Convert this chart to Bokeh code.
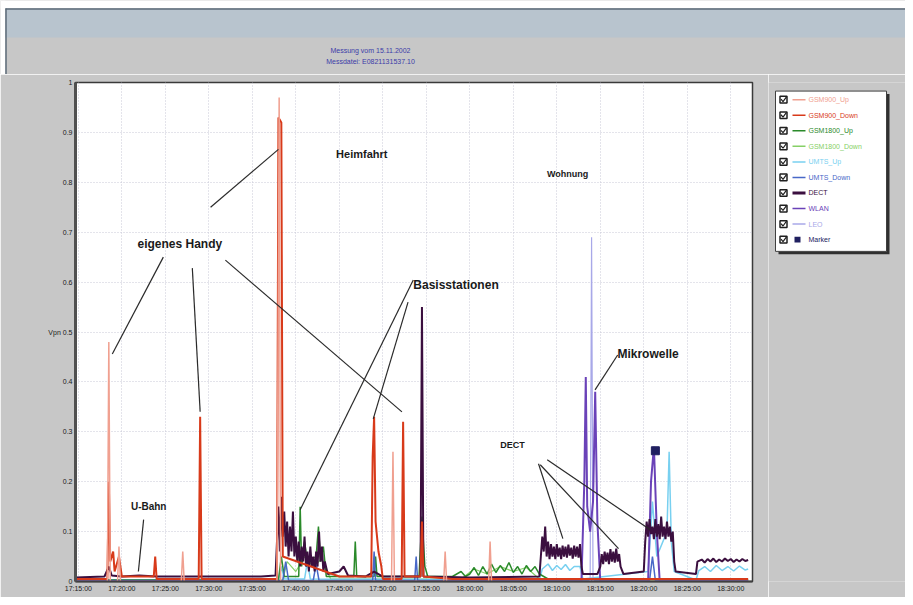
from bokeh.plotting import figure
from bokeh.models import Range1d, FixedTicker, ColumnDataSource
from bokeh.layouts import column, row
from bokeh.embed import file_html
from bokeh.resources import INLINE
from bokeh.core.properties import value

# ---------------- data ----------------
title_lines = ["Messung vom 15.11.2002", "Messdatei: E0821131537.10"]

x_tick_labels = ["17:15:00", "17:20:00", "17:25:00", "17:30:00", "17:35:00", "17:40:00",
                 "17:45:00", "17:50:00", "17:55:00", "18:00:00", "18:05:00", "18:10:00",
                 "18:15:00", "18:20:00", "18:25:00", "18:30:00"]
y_tick_values = [0.0, 0.1, 0.2, 0.3, 0.4, 0.5, 0.6, 0.7, 0.8, 0.9, 1.0]
y_tick_labels = ["0", "0.1", "0.2", "0.3", "0.4", "Vpn 0.5", "0.6", "0.7", "0.8", "0.9", "1"]

series_names = ["GSM900_Up", "GSM900_Down", "GSM1800_Up", "GSM1800_Down", "UMTS_Up",
                "UMTS_Down", "DECT", "WLAN", "LEO", "Marker"]
series_colors = ["#f0a090", "#d83a1a", "#2a8a2a", "#86d066", "#78d0f0",
                 "#4868c8", "#3b0f3f", "#6a42b8", "#a8a8e8", "#202060"]

gsm1800_down_t = ["17:14:40", "17:38:30", "17:39:00", "17:40:00", "17:41:00", "17:42:00", "17:43:00",
                  "17:44:00", "17:59:00", "18:00:30", "18:02:00", "18:03:30", "18:05:00", "18:06:30",
                  "18:08:00", "18:32:00"]
gsm1800_down_v = [0.003, 0.003, 0.040, 0.020, 0.050, 0.030, 0.045, 0.005, 0.005, 0.025, 0.015,
                  0.030, 0.020, 0.028, 0.005, 0.003]

umts_up_t = ["17:14:40", "17:38:00", "17:38:20", "17:38:40", "17:41:00", "17:41:20", "17:41:40",
             "18:08:00", "18:08:20", "18:09:00", "18:09:30", "18:10:00", "18:10:30", "18:11:00",
             "18:11:30", "18:12:00", "18:12:40", "18:13:00", "18:20:30",
             "18:21:00", "18:21:30", "18:22:40", "18:22:55", "18:23:10", "18:23:30", "18:26:00",
             "18:26:20", "18:27:00", "18:27:40", "18:28:20", "18:29:00", "18:29:40", "18:30:20",
             "18:31:00", "18:31:40", "18:32:00"]
umts_up_v = [0.003, 0.003, 0.030, 0.005, 0.005, 0.040, 0.005,
             0.003, 0.025, 0.035, 0.022, 0.032, 0.024, 0.034,
             0.022, 0.030, 0.030, 0.005, 0.020,
             0.160, 0.050, 0.100, 0.260, 0.080, 0.020, 0.003,
             0.022, 0.030, 0.020, 0.032, 0.022, 0.030, 0.021,
             0.031, 0.023, 0.025]

gsm1800_up_t = ["17:14:40", "17:38:00", "17:38:20", "17:38:40", "17:40:20", "17:40:30", "17:40:40",
                "17:41:00", "17:41:20", "17:42:20", "17:42:36", "17:42:50", "17:43:10", "17:43:30",
                "17:46:40", "17:46:50", "17:47:00", "17:49:00", "17:49:10", "17:49:20", "17:54:10",
                "17:54:30", "17:54:50", "17:55:10", "17:58:00", "17:59:00", "17:59:30", "18:00:00",
                "18:00:30", "18:01:00", "18:01:30", "18:02:00", "18:02:30", "18:03:00", "18:03:30",
                "18:04:00", "18:04:30", "18:05:00", "18:05:30", "18:06:00", "18:06:30", "18:07:00",
                "18:07:30", "18:08:00", "18:09:00", "18:32:00"]
gsm1800_up_v = [0.003, 0.003, 0.050, 0.010, 0.010, 0.150, 0.030,
                0.080, 0.040, 0.050, 0.110, 0.040, 0.070, 0.010,
                0.010, 0.080, 0.010, 0.010, 0.050, 0.010, 0.010,
                0.130, 0.030, 0.010, 0.010, 0.020, 0.010, 0.015,
                0.028, 0.012, 0.030, 0.015, 0.035, 0.018, 0.032,
                0.020, 0.038, 0.018, 0.030, 0.015, 0.032, 0.020,
                0.030, 0.015, 0.005, 0.003]

umts_down_t = ["17:14:40", "17:38:30", "17:38:50", "17:39:10", "17:42:00", "17:42:20", "17:42:40",
               "17:48:50", "17:49:00", "17:49:10", "17:53:40", "17:53:50", "17:54:00",
               "18:20:40", "18:21:00", "18:21:20", "18:32:00"]
umts_down_v = [0.002, 0.002, 0.040, 0.002, 0.002, 0.035, 0.002,
               0.002, 0.060, 0.002, 0.002, 0.050, 0.002,
               0.002, 0.050, 0.002, 0.002]

leo_t = ["17:14:40", "18:13:50", "18:14:00", "18:14:10", "18:32:00"]
leo_v = [0.0, 0.0, 0.690, 0.0, 0.0]

wlan_t = ["17:14:40", "18:12:50", "18:13:10", "18:13:20", "18:13:30", "18:13:50", "18:14:10",
          "18:14:25", "18:14:40", "18:15:00", "18:20:30", "18:20:50", "18:21:10", "18:21:30",
          "18:21:50", "18:32:00"]
wlan_v = [0.0, 0.0, 0.200, 0.410, 0.150, 0.100, 0.160,
          0.380, 0.120, 0.0, 0.0, 0.200, 0.270, 0.100,
          0.0, 0.0]

dect_t = ["17:14:40", "17:18:00", "17:18:30", "17:18:50", "17:20:00", "17:22:00", "17:24:00",
          "17:30:00", "17:36:00",
          "17:37:40", "17:37:50", "17:38:00", "17:38:10", "17:38:20", "17:38:30", "17:38:40",
          "17:38:50", "17:39:00", "17:39:10", "17:39:20", "17:39:30", "17:39:40", "17:39:50",
          "17:40:00", "17:40:10", "17:40:20", "17:40:30", "17:40:40", "17:40:50", "17:41:00",
          "17:41:10", "17:41:20", "17:41:30", "17:41:40", "17:41:50", "17:42:00", "17:42:10",
          "17:42:20", "17:42:30", "17:42:40", "17:42:50", "17:43:00", "17:43:10", "17:43:20",
          "17:43:40",
          "17:45:00", "17:45:30", "17:46:00", "17:48:00", "17:49:00", "17:50:00", "17:54:20",
          "17:54:30", "17:54:40", "18:00:00",
          "18:08:00", "18:08:10", "18:08:20", "18:08:30", "18:08:40", "18:08:50", "18:09:00",
          "18:09:10", "18:09:20", "18:09:30", "18:09:40", "18:09:50", "18:10:00", "18:10:10",
          "18:10:20", "18:10:30", "18:10:40", "18:10:50", "18:11:00", "18:11:10", "18:11:20",
          "18:11:30", "18:11:40", "18:11:50", "18:12:00", "18:12:10", "18:12:20", "18:12:30",
          "18:12:40", "18:12:50", "18:13:00", "18:14:40",
          "18:15:00", "18:15:10", "18:15:20", "18:15:30", "18:15:40", "18:15:50", "18:16:00",
          "18:16:10", "18:16:20", "18:16:30", "18:16:40", "18:16:50", "18:17:00", "18:17:10",
          "18:17:20", "18:17:40",
          "18:20:00", "18:20:10", "18:20:20", "18:20:30", "18:20:40", "18:20:50", "18:21:00",
          "18:21:10", "18:21:20", "18:21:30", "18:21:40", "18:21:50", "18:22:00", "18:22:10",
          "18:22:20", "18:22:30", "18:22:40", "18:22:50", "18:23:00", "18:23:10", "18:23:20",
          "18:23:30", "18:23:40",
          "18:26:00", "18:26:10", "18:26:40", "18:27:00", "18:27:20", "18:27:40", "18:28:00",
          "18:28:20", "18:28:40", "18:29:00", "18:29:20", "18:29:40", "18:30:00", "18:30:20",
          "18:30:40", "18:31:00", "18:31:20", "18:31:40", "18:32:00"]
dect_v = [0.008, 0.010, 0.030, 0.012, 0.010, 0.012, 0.010,
          0.010, 0.010,
          0.012, 0.080, 0.150, 0.060, 0.170, 0.090, 0.140,
          0.070, 0.120, 0.050, 0.110, 0.060, 0.140, 0.050,
          0.090, 0.040, 0.080, 0.030, 0.070, 0.040, 0.090,
          0.030, 0.060, 0.020, 0.070, 0.030, 0.050, 0.020,
          0.060, 0.030, 0.100, 0.040, 0.070, 0.020, 0.040,
          0.015,
          0.020, 0.030, 0.012, 0.010, 0.020, 0.010, 0.010,
          0.550, 0.010, 0.008,
          0.010, 0.050, 0.090, 0.060, 0.110, 0.050, 0.080,
          0.045, 0.075, 0.050, 0.070, 0.045, 0.075, 0.050,
          0.068, 0.045, 0.072, 0.050, 0.070, 0.048, 0.074,
          0.052, 0.068, 0.046, 0.072, 0.050, 0.070, 0.048,
          0.075, 0.030, 0.015, 0.015,
          0.030, 0.055, 0.035, 0.060, 0.040, 0.058, 0.035,
          0.065, 0.040, 0.060, 0.038, 0.066, 0.040, 0.055,
          0.030, 0.015,
          0.020, 0.080, 0.120, 0.090, 0.125, 0.095, 0.110,
          0.085, 0.125, 0.090, 0.115, 0.085, 0.130, 0.090,
          0.110, 0.085, 0.120, 0.090, 0.110, 0.080, 0.100,
          0.040, 0.020,
          0.015, 0.040, 0.044, 0.038, 0.045, 0.040, 0.046,
          0.039, 0.044, 0.040, 0.046, 0.041, 0.045, 0.039,
          0.044, 0.040, 0.045, 0.041, 0.043]

gsm900_down_t = ["17:14:40", "17:18:20", "17:18:30", "17:18:40", "17:19:00", "17:19:10", "17:19:40",
                 "17:20:00", "17:23:40", "17:23:50", "17:24:00", "17:28:50", "17:29:00", "17:29:10",
                 "17:37:50", "17:38:00", "17:38:20", "17:38:30", "17:45:00", "17:48:40", "17:48:50",
                 "17:49:00", "17:49:10", "17:49:30", "17:49:50", "17:50:00", "17:52:10", "17:52:20",
                 "17:52:30", "17:54:20", "17:54:30", "17:54:40", "17:58:00", "18:32:00"]
gsm900_down_v = [0.005, 0.005, 0.200, 0.040, 0.060, 0.020, 0.050,
                 0.010, 0.010, 0.050, 0.005, 0.005, 0.330, 0.005,
                 0.005, 0.930, 0.920, 0.050, 0.010, 0.010, 0.250,
                 0.330, 0.120, 0.060, 0.030, 0.005, 0.005, 0.320,
                 0.010, 0.010, 0.120, 0.010, 0.005, 0.005]

gsm900_up_t = ["17:14:40", "17:18:20", "17:18:30", "17:18:40", "17:19:30", "17:19:40", "17:19:50",
               "17:26:50", "17:27:00", "17:27:10", "17:37:50", "17:38:05", "17:38:15", "17:51:00",
               "17:51:10", "17:51:20", "17:57:00", "17:57:10", "17:57:20", "18:02:10", "18:02:20",
               "18:02:30", "18:32:00"]
gsm900_up_v = [0.0, 0.0, 0.480, 0.0, 0.0, 0.070, 0.0,
               0.0, 0.060, 0.0, 0.0, 0.970, 0.0, 0.0,
               0.260, 0.0, 0.0, 0.060, 0.0, 0.0, 0.080,
               0.0, 0.0]

marker_t = ["18:21:20"]
marker_v = [0.262]

ann_text = ["Heimfahrt", "eigenes Handy", "Basisstationen", "Wohnung", "Mikrowelle", "U-Bahn", "DECT"]
ann_t = ["17:47:35", "17:26:40", "17:58:25", "18:11:15", "18:20:30", "17:23:05", "18:04:55"]
ann_v = [0.856, 0.676, 0.594, 0.816, 0.456, 0.150, 0.274]
ann_size = ["11px", "12px", "12px", "9px", "12px", "10px", "9px"]

lead_t0 = ["17:24:46", "17:28:06", "17:30:12", "17:31:54", "17:53:30", "17:52:54", "18:17:00",
           "18:07:54", "18:08:06", "18:08:54", "17:22:30"]
lead_v0 = [0.650, 0.628, 0.750, 0.644, 0.604, 0.560, 0.454, 0.236, 0.234, 0.244, 0.124]
lead_t1 = ["17:18:54", "17:29:00", "17:38:00", "17:52:12", "17:40:30", "17:48:54", "18:14:24",
           "18:10:42", "18:17:06", "18:20:42", "17:21:54"]
lead_v1 = [0.456, 0.340, 0.866, 0.340, 0.144, 0.326, 0.384, 0.086, 0.066, 0.104, 0.020]

# ---------------- helpers ----------------
def t2m(s):
    h, m, sec = (int(v) for v in s.split(":"))
    return h * 60 + m + sec / 60.0 - (17 * 60 + 15)

GRAY = "#c7c7c7"
BAND = "#b8c4ce"
FONT = "Liberation Sans"

W, HEAD_H, BODY_H = 905, 74, 523
MAIN_W = 768

# ---------------- header ----------------
head = figure(width=W, height=HEAD_H, x_range=Range1d(0, W), y_range=Range1d(HEAD_H, 0),
              output_backend="svg", toolbar_location=None, min_border=0,
              x_axis_location=None, y_axis_location=None,
              background_fill_color=GRAY, border_fill_color=GRAY, outline_line_color=None)
head.grid.visible = False
head.quad(left=[0], right=[W], top=[0], bottom=[8], fill_color="white", line_color=None)
head.quad(left=[0], right=[5], top=[0], bottom=[HEAD_H], fill_color="white", line_color=None)
head.quad(left=[5], right=[W], top=[8], bottom=[37], fill_color=BAND, line_color=None)
head.segment(x0=[5, 5.5], y0=[8.5, 8], x1=[W, 5.5], y1=[8.5, HEAD_H], line_color="#5d6b78", line_width=1.5)
head.text(x=[370, 370], y=[50, 61], text=title_lines, text_align="center", text_baseline="middle",
          text_font=value(FONT), text_font_size="7px", text_color="#3c3ca8")

# ---------------- main plot ----------------
p = figure(width=MAIN_W, height=BODY_H, x_range=Range1d(-0.33, 77.5), y_range=Range1d(0, 1.0),
           output_backend="svg", toolbar_location=None,
           min_border_left=75, min_border_right=16, min_border_top=8, min_border_bottom=16,
           background_fill_color="white", border_fill_color=GRAY,
           outline_line_color="#3a3a3a", outline_line_width=1.5)

x_ticks = [5 * i for i in range(len(x_tick_labels))]
p.xaxis.ticker = FixedTicker(ticks=x_ticks)
p.xaxis.major_label_overrides = {t: l for t, l in zip(x_ticks, x_tick_labels)}
p.yaxis.ticker = FixedTicker(ticks=y_tick_values)
p.yaxis.major_label_overrides = {t: l for t, l in zip(y_tick_values, y_tick_labels)}
for ax in (p.xaxis, p.yaxis):
    ax.major_tick_in = 0
    ax.major_tick_out = 0
    ax.minor_tick_line_color = None
    ax.major_label_text_font = FONT
    ax.major_label_text_font_size = "7px"
    ax.major_label_text_color = "#202020"
    ax.major_label_standoff = 3
p.yaxis.axis_line_color = "#505050"
p.yaxis.axis_line_width = 3
p.xaxis.axis_line_color = "#404040"
p.xaxis.axis_line_width = 2
p.grid.grid_line_color = "#c9c9d6"
p.grid.grid_line_dash = "1 2"
p.grid.grid_line_width = 1

series = {
    "GSM1800_Down": (gsm1800_down_t, gsm1800_down_v, 1.2),
    "UMTS_Up": (umts_up_t, umts_up_v, 1.5),
    "GSM1800_Up": (gsm1800_up_t, gsm1800_up_v, 1.5),
    "UMTS_Down": (umts_down_t, umts_down_v, 1.5),
    "LEO": (leo_t, leo_v, 1.2),
    "WLAN": (wlan_t, wlan_v, 2.0),
    "DECT": (dect_t, dect_v, 2.0),
    "GSM900_Down": (gsm900_down_t, gsm900_down_v, 2.0),
    "GSM900_Up": (gsm900_up_t, gsm900_up_v, 1.5),
}
for name, (ts, vs, lw) in series.items():
    col = series_colors[series_names.index(name)]
    p.line(x=[t2m(t) for t in ts], y=vs, line_color=col, line_width=lw)

p.scatter(x=[t2m(t) for t in marker_t], y=marker_v, marker="square", size=8,
          fill_color=series_colors[-1], line_color=series_colors[-1])

lead_src = ColumnDataSource(dict(x0=[t2m(t) for t in lead_t0], y0=lead_v0,
                                 x1=[t2m(t) for t in lead_t1], y1=lead_v1))
p.segment(x0="x0", y0="y0", x1="x1", y1="y1", source=lead_src, line_color="#2a2a2a", line_width=1.2)

ann_src = ColumnDataSource(dict(x=[t2m(t) for t in ann_t], y=ann_v, text=ann_text, size=ann_size))
p.text(x="x", y="y", text="text", source=ann_src, text_align="center", text_baseline="middle",
       text_font=value(FONT), text_font_size="size", text_font_style="bold", text_color="#1a1a1a")

# ---------------- legend panel ----------------
LW = W - MAIN_W
leg = figure(width=LW, height=BODY_H, x_range=Range1d(0, LW), y_range=Range1d(BODY_H, 0),
             output_backend="svg", toolbar_location=None, min_border=0,
             x_axis_location=None, y_axis_location=None,
             background_fill_color=GRAY, border_fill_color=GRAY, outline_line_color=None)
leg.grid.visible = False
leg.quad(left=[10], right=[121], top=[12], bottom=[180], fill_color="#303030", line_color=None)
leg.quad(left=[7], right=[118], top=[9], bottom=[177], fill_color="white", line_color="#404040", line_width=1)

n = len(series_names)
row_y = [18 + 16.3 * i for i in range(n)]
leg.rect(x=[15] * n, y=row_y, width=7, height=7, fill_color="white", line_color="#202020", line_width=1.5)
leg.multi_line(xs=[[12.5, 14.5, 18] for _ in range(n)], ys=[[y - 0.5, y + 2, y - 3] for y in row_y],
               line_color="#202020", line_width=1.2)
line_rows = [i for i in range(n) if series_names[i] != "Marker"]
leg.segment(x0=[24] * len(line_rows), y0=[row_y[i] for i in line_rows],
            x1=[37] * len(line_rows), y1=[row_y[i] for i in line_rows],
            line_color=[series_colors[i] for i in line_rows],
            line_width=[3 if series_names[i] == "DECT" else 1.5 for i in line_rows])
leg.rect(x=[29], y=[row_y[-1]], width=6, height=6, fill_color=series_colors[-1], line_color=None)
leg.text(x=[40] * n, y=row_y, text=series_names, text_color=series_colors, text_baseline="middle",
         text_font=value(FONT), text_font_size="7px")

layout = column(head, row(p, leg, spacing=0), spacing=0)
open("out.html", "w").write(file_html(layout, INLINE))
